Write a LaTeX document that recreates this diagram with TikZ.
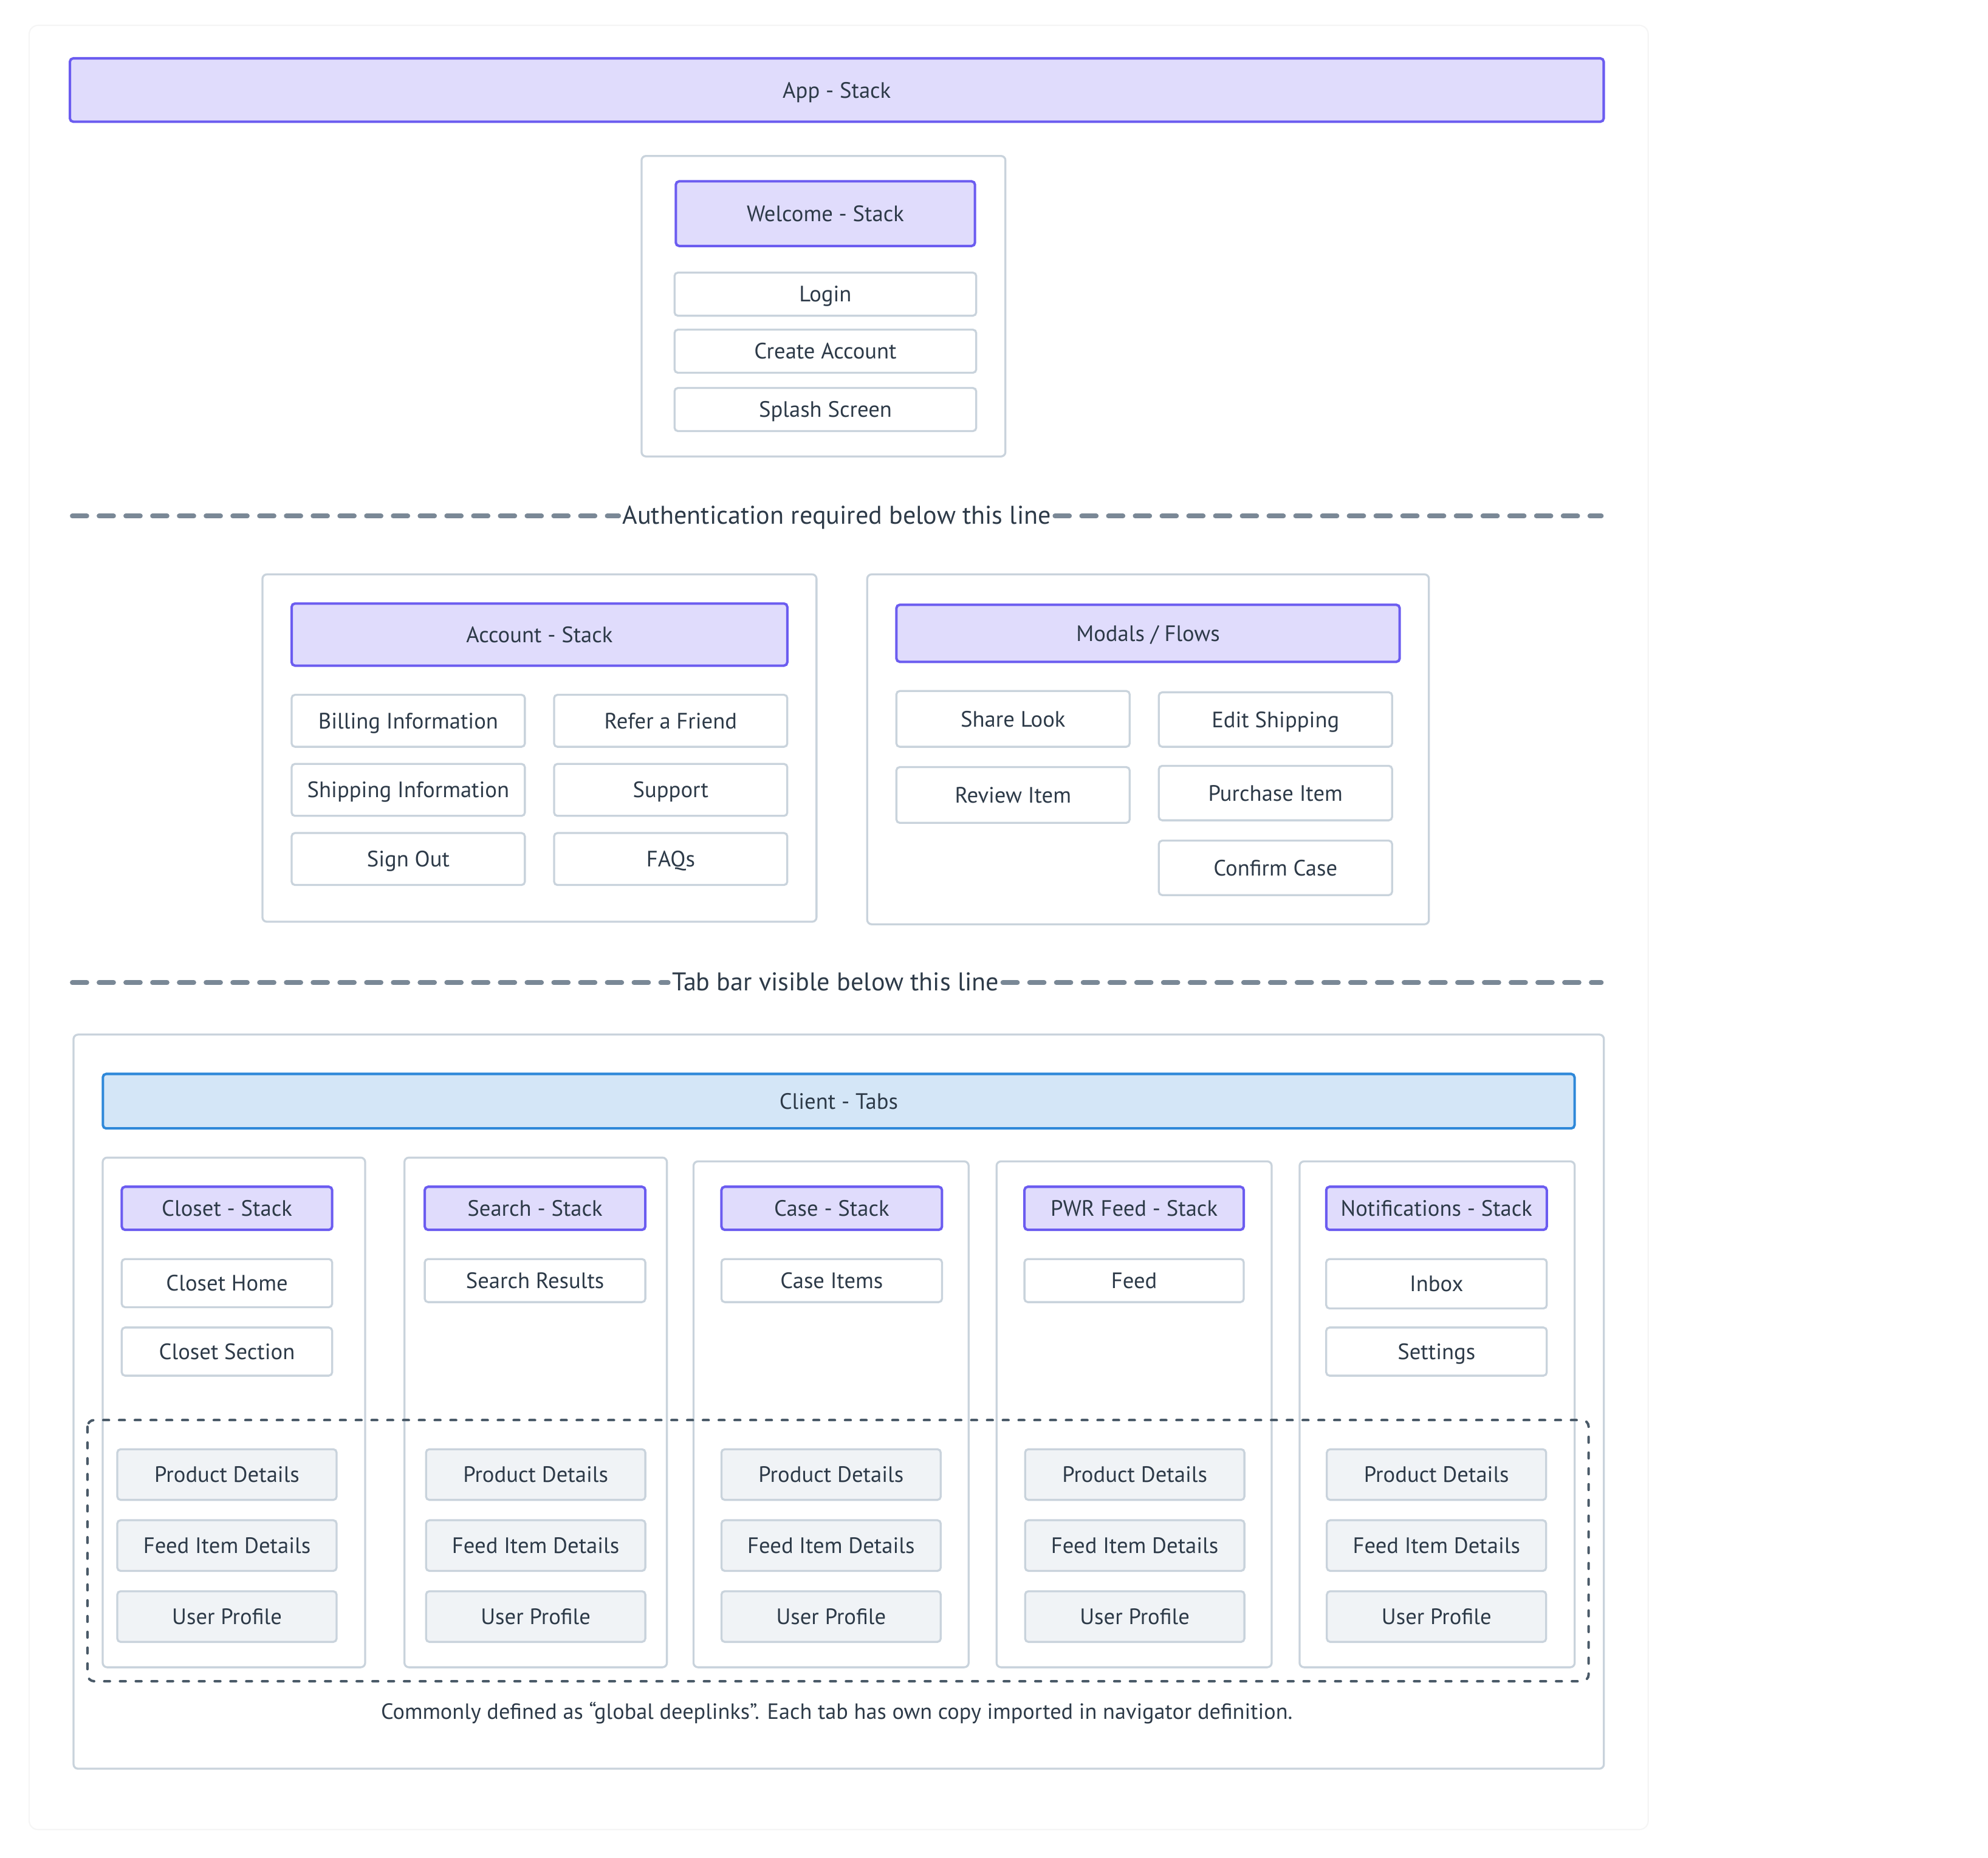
\documentclass[tikz,border=0pt]{standalone}
\usepackage{fontspec}
\setmainfont{PT Sans}
\setsansfont{PT Sans}
\usepackage{xcolor}
\usepackage{tikz}
\usetikzlibrary{positioning}

\definecolor{stackfill}{HTML}{E0DCFC}
\definecolor{stackline}{HTML}{6B5CF0}
\definecolor{tabsfill}{HTML}{D4E6F7}
\definecolor{tabsline}{HTML}{2E88D9}
\definecolor{frameline}{HTML}{C9D3DC}
\definecolor{sharedfill}{HTML}{F0F3F6}
\definecolor{inktext}{HTML}{2D3A48}
\definecolor{divline}{HTML}{7A8896}
\definecolor{deeplink}{HTML}{4A5A68}

\begin{document}
\begin{tikzpicture}[
    x=0.02cm, y=-0.02cm,
    font=\sffamily\fontsize{10}{12}\selectfont,
    text=inktext,
    stackbox/.style={draw=stackline, fill=stackfill, line width=1.1pt, rounded corners=1.5pt, inner sep=0pt, text height=0.9em, text depth=0.2em},
    tabsbox/.style={draw=tabsline, fill=tabsfill, line width=1.1pt, rounded corners=1.5pt, inner sep=0pt, text height=0.9em, text depth=0.2em},
    screenbox/.style={draw=frameline, fill=white, line width=0.9pt, rounded corners=1.5pt, inner sep=0pt, text height=0.9em, text depth=0.2em},
    sharedbox/.style={screenbox, fill=sharedfill, minimum width=3.46cm, minimum height=0.8cm},
    groupbox/.style={draw=frameline, line width=0.9pt, rounded corners=2pt},
    divider/.style={draw=divline, line width=2.1pt, line cap=round, dash pattern=on 0.23cm off 0.192cm},
    divlabel/.style={inner sep=1.5pt, font=\sffamily\fontsize{11.5}{14}\selectfont, text height=0.9em, text depth=0.2em}
]

\useasboundingbox (0,0) rectangle (1568,1465);

% faint canvas
\draw[black!4, line width=0.6pt, rounded corners=4pt] (23,20) rectangle (1300,1443);

% App stack
\node[stackbox, minimum width=24.2cm, minimum height=1cm] (app) at (660,71) {App - Stack};

% Welcome group
\draw[groupbox] (506,123) rectangle (793,360);
\node[stackbox, minimum width=4.72cm, minimum height=1.02cm] (welcome) at (651,168.5) {Welcome - Stack};
\node[screenbox, minimum width=4.76cm, minimum height=0.68cm] (login) at (651,232) {Login};
\node[screenbox, minimum width=4.76cm, minimum height=0.68cm] (create) at (651,277) {Create Account};
\node[screenbox, minimum width=4.76cm, minimum height=0.68cm] (splash) at (651,323) {Splash Screen};

% Auth divider
\node[divlabel] (authlbl) at (660,407) {Authentication required below this line};
\coordinate (authL) at (57,407);
\coordinate (authR) at (1263,407);
\draw[divider] (authL) -- (authlbl.west);
\draw[divider] (authlbl.east) -- (authR);

% Account group
\draw[groupbox] (207,453) rectangle (644,727);
\node[stackbox, minimum width=7.82cm, minimum height=0.98cm] (account) at (425.5,500.5) {Account - Stack};
\node[screenbox, minimum width=3.68cm, minimum height=0.82cm] (billing) at (322,568.5) {Billing Information};
\node[screenbox, minimum width=3.68cm, minimum height=0.82cm] (refer) at (529,568.5) {Refer a Friend};
\node[screenbox, minimum width=3.68cm, minimum height=0.82cm] (shipinfo) at (322,623) {Shipping Information};
\node[screenbox, minimum width=3.68cm, minimum height=0.82cm] (support) at (529,623) {Support};
\node[screenbox, minimum width=3.68cm, minimum height=0.82cm] (signout) at (322,677.5) {Sign Out};
\node[screenbox, minimum width=3.68cm, minimum height=0.82cm] (faqs) at (529,677.5) {FAQs};

% Modals group
\draw[groupbox] (684,453) rectangle (1127,729);
\node[stackbox, minimum width=7.94cm, minimum height=0.9cm] (modals) at (905.5,499.5) {Modals / Flows};
\node[screenbox, minimum width=3.68cm, minimum height=0.88cm] (share) at (799,567) {Share Look};
\node[screenbox, minimum width=3.68cm, minimum height=0.88cm] (review) at (799,627) {Review Item};
\node[screenbox, minimum width=3.68cm, minimum height=0.86cm] (editship) at (1006,567.5) {Edit Shipping};
\node[screenbox, minimum width=3.68cm, minimum height=0.86cm] (purchase) at (1006,625.5) {Purchase Item};
\node[screenbox, minimum width=3.68cm, minimum height=0.86cm] (confirm) at (1006,684.5) {Confirm Case};

% Tab bar divider
\node[divlabel] (tablbl) at (659,775) {Tab bar visible below this line};
\coordinate (tabL) at (57,775);
\coordinate (tabR) at (1263,775);
\draw[divider] (tabL) -- (tablbl.west);
\draw[divider] (tablbl.east) -- (tabR);

% Client tabs
\draw[groupbox] (58,816) rectangle (1265,1395);
\node[tabsbox, minimum width=23.22cm, minimum height=0.86cm] (client) at (661.5,868.5) {Client - Tabs};

% Tab columns
\draw[groupbox] (81,913) rectangle (288,1315);
\draw[groupbox] (319,913) rectangle (526,1315);
\draw[groupbox] (547,916) rectangle (764,1315);
\draw[groupbox] (786,916) rectangle (1003,1315);
\draw[groupbox] (1025,916) rectangle (1242,1315);

\node[stackbox, minimum width=3.32cm, minimum height=0.68cm] (closet) at (179,953) {Closet - Stack};
\node[stackbox, minimum width=3.48cm, minimum height=0.68cm] (search) at (422,953) {Search - Stack};
\node[stackbox, minimum width=3.48cm, minimum height=0.68cm] (case) at (656,953) {Case - Stack};
\node[stackbox, minimum width=3.46cm, minimum height=0.68cm] (pwrfeed) at (894.5,953) {PWR Feed - Stack};
\node[stackbox, minimum width=3.48cm, minimum height=0.68cm] (notif) at (1133,953) {Notifications - Stack};

\node[screenbox, minimum width=3.32cm, minimum height=0.76cm] (closethome) at (179,1012) {Closet Home};
\node[screenbox, minimum width=3.32cm, minimum height=0.76cm] (closetsec) at (179,1066) {Closet Section};
\node[screenbox, minimum width=3.48cm, minimum height=0.68cm] (results) at (422,1010) {Search Results};
\node[screenbox, minimum width=3.48cm, minimum height=0.68cm] (caseitems) at (656,1010) {Case Items};
\node[screenbox, minimum width=3.46cm, minimum height=0.68cm] (feed) at (894.5,1010) {Feed};
\node[screenbox, minimum width=3.48cm, minimum height=0.78cm] (inbox) at (1133,1012.5) {Inbox};
\node[screenbox, minimum width=3.48cm, minimum height=0.76cm] (settings) at (1133,1066) {Settings};

% Global deeplinks
\draw[deeplink, line width=1.1pt, line cap=round, dash pattern=on 0.09cm off 0.159cm, rounded corners=3pt] (69,1120) rectangle (1253,1326);

\node[sharedbox] (prod1) at (179,1163) {Product Details};
\node[sharedbox] (feeditem1) at (179,1219) {Feed Item Details};
\node[sharedbox] (user1) at (179,1275) {User Profile};
\node[sharedbox] (prod2) at (422.5,1163) {Product Details};
\node[sharedbox] (feeditem2) at (422.5,1219) {Feed Item Details};
\node[sharedbox] (user2) at (422.5,1275) {User Profile};
\node[sharedbox] (prod3) at (655.5,1163) {Product Details};
\node[sharedbox] (feeditem3) at (655.5,1219) {Feed Item Details};
\node[sharedbox] (user3) at (655.5,1275) {User Profile};
\node[sharedbox] (prod4) at (895,1163) {Product Details};
\node[sharedbox] (feeditem4) at (895,1219) {Feed Item Details};
\node[sharedbox] (user4) at (895,1275) {User Profile};
\node[sharedbox] (prod5) at (1133,1163) {Product Details};
\node[sharedbox] (feeditem5) at (1133,1219) {Feed Item Details};
\node[sharedbox] (user5) at (1133,1275) {User Profile};

\node[font=\sffamily\fontsize{9.9}{12}\selectfont, text height=0.9em, text depth=0.2em] (caption) at (660,1350) {Commonly defined as “global deeplinks”. Each tab has own copy imported in navigator definition.};

\end{tikzpicture}
\end{document}
